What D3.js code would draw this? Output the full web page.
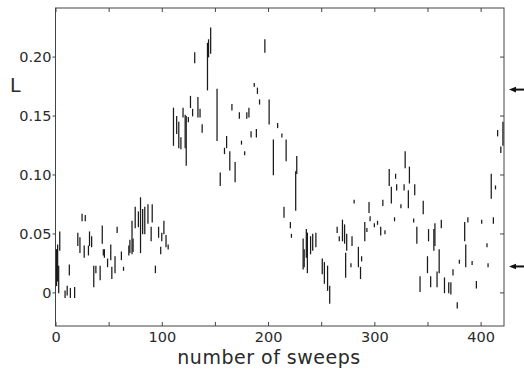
<!DOCTYPE html>
<html><head><meta charset="utf-8">
<script src="https://cdn.jsdelivr.net/npm/d3@7"></script>
<style>
html,body{margin:0;padding:0;background:#fff;}
svg{display:block;}
text{font-family:"DejaVu Sans",sans-serif;fill:#2a2a2a;}
</style></head>
<body>
<script>
// ---- data ----
const sweeps = [1,2,3,4,9,11,13,14,18,21,23,25,27,28,31,32,34,36,38,42,44,45,46,49,52,53,56,58,62,64,69,70,72,73,75,78,80,82,84,87,90,91,94,97,99,100,102,104,106,
111,114,116,118,120,122,123,125,127,129,131,134,136,138,143,144,146,152,155,159,161,164,166,169,173,175,178,180,182,184,187,189,190,192,197,201,
205,209,213,215,217,221,222,226,227,233,234,236,237,240,242,245,251,253,256,258,265,267,270,272,273,274,278,279,281,285,287,288,291,293,295,296,
300,303,306,308,310,314,316,319,320,321,325,328,329,332,333,337,338,340,343,346,350,351,353,356,357,359,361,363,366,370,372,374,378,380,385,386,388,392,396,401,406,407,410,412,414,416,419,421];
const lows = [0.006,0.010,0.000,0.036,-0.004,-0.002,0.015,-0.004,-0.004,0.040,0.034,0.061,0.030,0.061,0.032,0.040,0.039,0.005,0.017,0.011,0.042,0.032,0.030,0.022,0.028,0.012,0.017,0.051,0.028,0.019,0.032,0.034,0.033,0.035,0.055,0.056,0.034,0.050,0.050,0.059,0.044,0.060,0.017,0.047,0.033,0.044,0.050,0.039,0.037,
0.125,0.135,0.123,0.122,0.149,0.123,0.108,0.145,0.157,0.150,0.195,0.149,0.149,0.136,0.172,0.200,0.203,0.129,0.091,0.118,0.123,0.104,0.155,0.094,0.148,0.126,0.117,0.148,0.149,0.132,0.175,0.132,0.169,0.160,0.204,0.143,
0.100,0.140,0.132,0.064,0.112,0.055,0.047,0.070,0.101,0.020,0.022,0.030,0.017,0.033,0.036,0.039,0.016,0.008,0.002,-0.009,0.051,0.044,0.044,0.042,0.013,0.036,0.022,0.040,0.076,0.022,0.012,0.027,0.044,0.052,0.068,0.061,
0.056,0.058,0.049,0.074,0.050,0.091,0.076,0.061,0.097,0.087,0.072,0.087,0.106,0.072,0.093,0.060,0.083,0.042,0.001,0.067,0.017,0.044,0.005,0.036,0.040,0.005,0.017,0.055,0.000,0.000,-0.001,0.015,-0.013,0.025,0.044,0.022,0.060,0.024,0.004,0.059,0.039,0.022,0.080,0.059,0.088,0.133,0.119,0.125];
const highs = [0.036,0.040,0.022,0.051,0.001,0.005,0.023,0.003,0.004,0.050,0.046,0.066,0.039,0.065,0.039,0.051,0.047,0.022,0.022,0.022,0.056,0.036,0.036,0.028,0.040,0.021,0.030,0.055,0.034,0.021,0.039,0.044,0.060,0.045,0.072,0.068,0.080,0.070,0.072,0.074,0.055,0.074,0.022,0.055,0.038,0.050,0.060,0.048,0.040,
0.156,0.149,0.144,0.131,0.156,0.150,0.149,0.148,0.166,0.155,0.203,0.165,0.155,0.142,0.211,0.214,0.224,0.172,0.101,0.122,0.132,0.119,0.159,0.110,0.152,0.128,0.119,0.152,0.156,0.136,0.177,0.138,0.173,0.163,0.214,0.163,
0.129,0.143,0.134,0.072,0.129,0.059,0.049,0.102,0.115,0.045,0.036,0.053,0.050,0.047,0.049,0.050,0.028,0.025,0.022,0.005,0.055,0.047,0.061,0.057,0.033,0.049,0.024,0.047,0.078,0.038,0.021,0.030,0.059,0.054,0.076,0.064,
0.058,0.060,0.055,0.078,0.052,0.104,0.089,0.063,0.100,0.091,0.074,0.091,0.119,0.086,0.106,0.062,0.091,0.055,0.013,0.077,0.030,0.053,0.013,0.053,0.058,0.017,0.036,0.061,0.012,0.008,0.008,0.019,-0.009,0.027,0.059,0.040,0.063,0.026,0.009,0.061,0.041,0.024,0.100,0.063,0.090,0.137,0.123,0.144];
const xTicks = [0,100,200,300,400];
const xMinorTicks = [0,50,100,150,200,250,300,350,400];
const yTicks = [0,0.05,0.10,0.15,0.20];
const yTickLabels = ["0","0.05","0.10","0.15","0.20"];
const arrowLevels = [0.172,0.022];
const xTitle = "number of sweeps";
const yTitle = "L";

// ---- drawing ----
const W = 524, H = 385;
const m = {left:55.5, right:504, top:8, bottom:326};
const svg = d3.select("body").append("svg").attr("width",W).attr("height",H);
const x = d3.scaleLinear().domain([0,422]).range([m.left,m.right]);
const y = d3.scaleLinear().domain([-0.0285,0.2412]).range([m.bottom,m.top]);

// frame
svg.append("rect").attr("x",m.left).attr("y",m.top).attr("width",m.right-m.left).attr("height",m.bottom-m.top)
  .attr("fill","none").attr("stroke","#444").attr("stroke-width",1);

// axes (ticks)
const axL = svg.append("g").attr("transform",`translate(${m.left},0)`)
  .call(d3.axisLeft(y).tickValues(yTicks).tickFormat((d,i)=>yTickLabels[i]).tickSize(3).tickPadding(1));
const axR = svg.append("g").attr("transform",`translate(${m.right},0)`)
  .call(d3.axisLeft(y).tickValues(yTicks).tickFormat("").tickSize(4));
const axB = svg.append("g").attr("transform",`translate(0,${m.bottom})`)
  .call(d3.axisTop(x).tickValues(xMinorTicks).tickFormat("").tickSize(4));
const axT = svg.append("g").attr("transform",`translate(0,${m.top})`)
  .call(d3.axisBottom(x).tickValues(xMinorTicks).tickFormat("").tickSize(4));
const axBL = svg.append("g").attr("transform",`translate(0,${m.bottom})`)
  .call(d3.axisBottom(x).tickValues(xTicks).tickSize(0).tickPadding(6));
[axL,axR,axB,axT,axBL].forEach(g=>{
  g.select(".domain").remove();
  g.selectAll(".tick line").attr("stroke","#444");
  g.selectAll("text").style("font-family",'"DejaVu Sans",sans-serif').style("font-size","14.5px").attr("fill","#2a2a2a");
});

// titles
svg.append("text").attr("x",269).attr("y",364).attr("text-anchor","middle")
  .style("font-size","19px").style("letter-spacing","0.5px").text(xTitle);
svg.append("text").attr("x",10).attr("y",92).style("font-size","19px").text(yTitle);

// data segments
const idx = d3.range(sweeps.length);
svg.append("g").selectAll("line").data(idx).join("line")
  .attr("x1",i=>x(sweeps[i])).attr("x2",i=>x(sweeps[i]))
  .attr("y1",i=>y(highs[i])-0.8).attr("y2",i=>y(lows[i])+0.8)
  .attr("stroke","#1a1a1a").attr("stroke-width",1.25);

// arrows on right
const ag = svg.append("g");
arrowLevels.forEach(v=>{
  const yy = y(v);
  ag.append("line").attr("x1",514).attr("x2",524).attr("y1",yy).attr("y2",yy).attr("stroke","#111").attr("stroke-width",2);
  ag.append("path").attr("d",`M509,${yy} L516,${yy-2.8} L516,${yy+2.8} Z`).attr("fill","#111");
});
</script>
</body></html>
